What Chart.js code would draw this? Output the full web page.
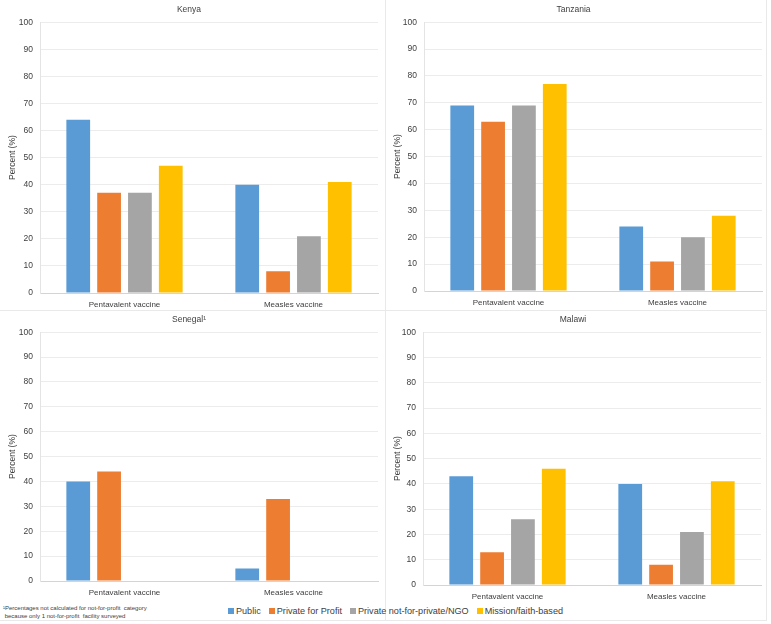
<!DOCTYPE html>
<html>
<head>
<meta charset="utf-8">
<script src="https://cdn.jsdelivr.net/npm/chart.js@4"></script>
<style>
  body { margin: 0; background: #fff; width: 771px; height: 624px; position: relative; overflow: hidden; font-family: "Liberation Sans", Arial, sans-serif; }
  canvas { position: absolute; }
  .line { position: absolute; background: #e9e9e9; }
  #legend { position: absolute; left: 228px; top: 606px; display: flex; font-size: 9.1px; color: #404040; white-space: nowrap; }
  #legend .item { display: flex; align-items: center; margin-right: 8px; }
  #legend .sw { width: 6px; height: 6px; margin-right: 2px; }
  #note { position: absolute; left: 3px; top: 605px; font-size: 6px; line-height: 7.5px; color: #404040; white-space: pre; }
</style>
</head>
<body>
<div class="line" style="left:385px;top:0;width:1px;height:620px"></div>
<div class="line" style="left:0;top:310px;width:766px;height:1px"></div>
<div class="line" style="left:766px;top:0;width:1px;height:620px"></div>
<div class="line" style="left:0;top:620px;width:767px;height:1px"></div>

<canvas id="kenyaChart" width="385" height="310" style="left:0;top:0"></canvas>
<canvas id="tanzaniaChart" width="386" height="308" style="left:385px;top:0"></canvas>
<canvas id="senegalChart" width="385" height="288" style="left:0;top:310px"></canvas>
<canvas id="malawiChart" width="386" height="292" style="left:385px;top:310px"></canvas>

<div id="note">¹Percentages not calculated for not-for-profit  category
 because only 1 not-for-profit  facility surveyed</div>
<div id="legend"></div>

<script>
const categories = ['Pentavalent vaccine', 'Measles vaccine'];
const seriesNames = ['Public', 'Private for Profit', 'Private not-for-private/NGO', 'Mission/faith-based'];
const seriesColors = ['#5b9bd5', '#ed7d31', '#a5a5a5', '#ffc000'];

// values per category, in series order
const kenyaPentavalent = [64, 37, 37, 47];
const kenyaMeasles = [40, 8, 21, 41];
const tanzaniaPentavalent = [69, 63, 69, 77];
const tanzaniaMeasles = [24, 11, 20, 28];
const senegalPentavalent = [40, 44, null, null];
const senegalMeasles = [5, 33, null, null];
const malawiPentavalent = [43, 13, 26, 46];
const malawiMeasles = [40, 8, 21, 41];

const yMin = 0, yMax = 100, yStep = 10;

const textColor = '#404040';
const fontFamily = '"Liberation Sans", Arial, sans-serif';

function createPanel(canvasId, titleText, penta, measles, yWidth, padRight) {
    const ctx = document.getElementById(canvasId).getContext('2d');
    const datasets = seriesNames.map((name, i) => ({
        label: name,
        data: [penta[i], measles[i]],
        backgroundColor: seriesColors[i],
        borderWidth: 0,
        barPercentage: 0.77,
        categoryPercentage: 0.73
    }));
    new Chart(ctx, {
        type: 'bar',
        data: { labels: categories, datasets: datasets },
        options: {
            responsive: false,
            animation: false,
            layout: { padding: { left: 0, right: padRight, top: 0, bottom: 0 } },
            scales: {
                x: {
                    grid: { display: false, drawTicks: false },
                    border: { display: true, color: '#d4d4d4' },
                    ticks: { color: textColor, font: { family: fontFamily, size: 8 }, padding: 6.5 },
                    afterFit: scale => { scale.height = 17; }
                },
                y: {
                    min: yMin,
                    max: yMax,
                    ticks: { stepSize: yStep, color: textColor, font: { family: fontFamily, size: 8.5 }, padding: 7 },
                    grid: {
                        color: c => c.tick && c.tick.value === 0 ? '#d4d4d4' : '#ececec',
                        drawTicks: false
                    },
                    border: { display: true, color: '#e4e4e4' },
                    title: { display: true, text: 'Percent (%)', color: textColor, font: { family: fontFamily, size: 8.5 }, padding: { top: 8, bottom: 0 } },
                    afterFit: scale => { scale.width = yWidth; }
                }
            },
            plugins: {
                legend: { display: false },
                tooltip: { enabled: false },
                title: {
                    display: true,
                    text: titleText,
                    color: textColor,
                    font: { family: fontFamily, size: 8.5, weight: 'normal' },
                    padding: { top: 5, bottom: 7 }
                }
            }
        }
    });
}

createPanel('kenyaChart', 'Kenya', kenyaPentavalent, kenyaMeasles, 40, 7);
createPanel('tanzaniaChart', 'Tanzania', tanzaniaPentavalent, tanzaniaMeasles, 39, 9);
createPanel('senegalChart', 'Senegal¹', senegalPentavalent, senegalMeasles, 40, 7);
createPanel('malawiChart', 'Malawi', malawiPentavalent, malawiMeasles, 38, 10);

// shared legend along the bottom
const legendEl = document.getElementById('legend');
seriesNames.forEach((name, i) => {
    const item = document.createElement('div');
    item.className = 'item';
    const sw = document.createElement('span');
    sw.className = 'sw';
    sw.style.background = seriesColors[i];
    const label = document.createElement('span');
    label.textContent = name;
    item.appendChild(sw);
    item.appendChild(label);
    legendEl.appendChild(item);
});
</script>
</body>
</html>
